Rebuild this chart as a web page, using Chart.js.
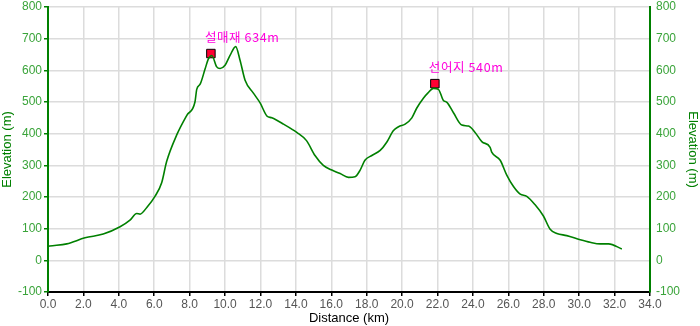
<!DOCTYPE html>
<html>
<head>
<meta charset="utf-8">
<script src="https://cdn.jsdelivr.net/npm/chart.js@4"></script>
<style>
  html, body { margin: 0; padding: 0; background: #fff; }
  #wrap { width: 700px; height: 326px; }
</style>
</head>
<body>
<div id="wrap"><canvas id="profileChart" width="700" height="326"></canvas></div>
<script>
// 거리(km)와 고도(m) - 그림에서 읽은 값
const distKm = [0, 0.1, 1.06, 2.09, 3.12, 4.07, 4.63, 5.01, 5.2, 5.58, 6.05, 6.42, 6.7, 7.27, 7.84, 8.3,
  8.4, 8.6, 8.87, 9.06, 9.25, 9.53, 9.72, 10.0, 10.28, 10.6, 10.85, 11.13, 11.6, 11.98, 12.36, 12.64,
  13.3, 14.05, 14.6, 15.08, 15.55, 16.03, 16.5, 16.97, 17.34, 17.63, 17.9, 18.29, 18.76, 19.13, 19.5,
  19.8, 20.17, 20.55, 20.83, 21.2, 21.45, 21.77, 22.05, 22.33, 22.53, 22.9, 23.37, 23.75, 24.12, 24.5,
  24.97, 25.06, 25.54, 25.91, 26.29, 26.67, 27.04, 27.5, 27.98, 28.36, 28.74, 29.3, 30.06, 30.62,
  31.19, 31.66, 32.41];
const elevM = [44, 45, 52, 71, 83, 106, 127, 148, 146, 167, 203, 245, 312, 396, 458, 500,
  540, 557, 604, 636, 647, 611, 606, 616, 647, 675, 631, 569, 528, 497, 456, 450,
  430, 404, 378, 331, 300, 285, 274, 262, 264, 285, 316, 331, 347, 373, 409,
  422, 430, 450, 481, 512, 528, 543, 540, 505, 499, 466, 427, 424, 404, 375,
  357, 342, 316, 269, 233, 209, 202, 176, 140, 98, 85, 78, 65, 57,
  52, 52, 36];

// 봉우리 표시
const peakNames = ['설매재 634m', '선어지 540m'];
const peakKm = [9.2, 21.85];
const peakElev = [653, 558];

const yTicks = { min: -100, max: 800, step: 100 };
const xTicks = { min: 0, max: 34, step: 2 };

const green = '#008000';
const tickGreen = '#3aa43a';
const gridGrey = '#dcdcdc';

const peakLabelPlugin = {
  id: 'peakLabels',
  afterDatasetsDraw(chart) {
    const meta = chart.getDatasetMeta(1);
    const ctx = chart.ctx;
    ctx.save();
    ctx.fillStyle = '#ff00dd';
    ctx.font = '12.5px "Noto Sans CJK KR", "DejaVu Sans", sans-serif';
    ctx.letterSpacing = '0.6px';
    ctx.textAlign = 'left';
    ctx.textBaseline = 'alphabetic';
    meta.data.forEach((pt, i) => {
      ctx.fillText(peakNames[i], pt.x - 6, pt.y - 12);
    });
    ctx.restore();
  }
};

function yAxis(position) {
  return {
    type: 'linear',
    position: position,
    min: yTicks.min,
    max: yTicks.max,
    ticks: {
      stepSize: yTicks.step,
      color: tickGreen,
      font: { family: '"Liberation Sans", Arial, sans-serif', size: 12 },
      padding: 2
    },
    grid: {
      display: position === 'left',
      color: gridGrey,
      lineWidth: 1.5,
      tickColor: green,
      tickLength: 4
    },
    border: { color: green, width: 2 },
    title: {
      display: true,
      text: 'Elevation (m)',
      color: green,
      font: { family: '"Liberation Sans", Arial, sans-serif', size: 13 },
      padding: 0
    },
    afterFit(scale) {
      scale.width = position === 'left' ? 48 : 50;
      scale.paddingTop = 2;
      scale.paddingBottom = 0;
    }
  };
}

const points = distKm.map((d, i) => ({ x: d, y: elevM[i] }));
const peakPoints = peakKm.map((d, i) => ({ x: d, y: peakElev[i] }));

new Chart(document.getElementById('profileChart'), {
  type: 'line',
  data: {
    datasets: [
      {
        data: points,
        borderColor: green,
        borderWidth: 1.6,
        pointRadius: 0,
        cubicInterpolationMode: 'monotone',
        fill: false,
        yAxisID: 'y'
      },
      {
        type: 'scatter',
        data: peakPoints,
        pointStyle: 'rect',
        pointRadius: 6,
        backgroundColor: '#ff0033',
        borderColor: '#000',
        borderWidth: 1,
        yAxisID: 'y'
      }
    ]
  },
  options: {
    responsive: false,
    animation: false,
    layout: { padding: 0 },
    plugins: { legend: { display: false }, tooltip: { enabled: false } },
    scales: {
      x: {
        type: 'linear',
        min: xTicks.min,
        max: xTicks.max,
        ticks: {
          stepSize: xTicks.step,
          color: '#555',
          font: { family: '"Liberation Sans", Arial, sans-serif', size: 12 },
          maxRotation: 0,
          padding: 1,
          callback: v => v.toFixed(1)
        },
        grid: { color: gridGrey, lineWidth: 1.5, tickColor: '#000', tickLength: 4 },
        border: { color: '#000', width: 2 },
        title: {
          display: true,
          text: 'Distance (km)',
          color: '#000',
          font: { family: '"Liberation Sans", Arial, sans-serif', size: 13 },
          padding: 0
        },
        afterFit(scale) { scale.height = 34; }
      },
      y: yAxis('left'),
      y2: yAxis('right')
    }
  },
  plugins: [peakLabelPlugin]
});
</script>
</body>
</html>
